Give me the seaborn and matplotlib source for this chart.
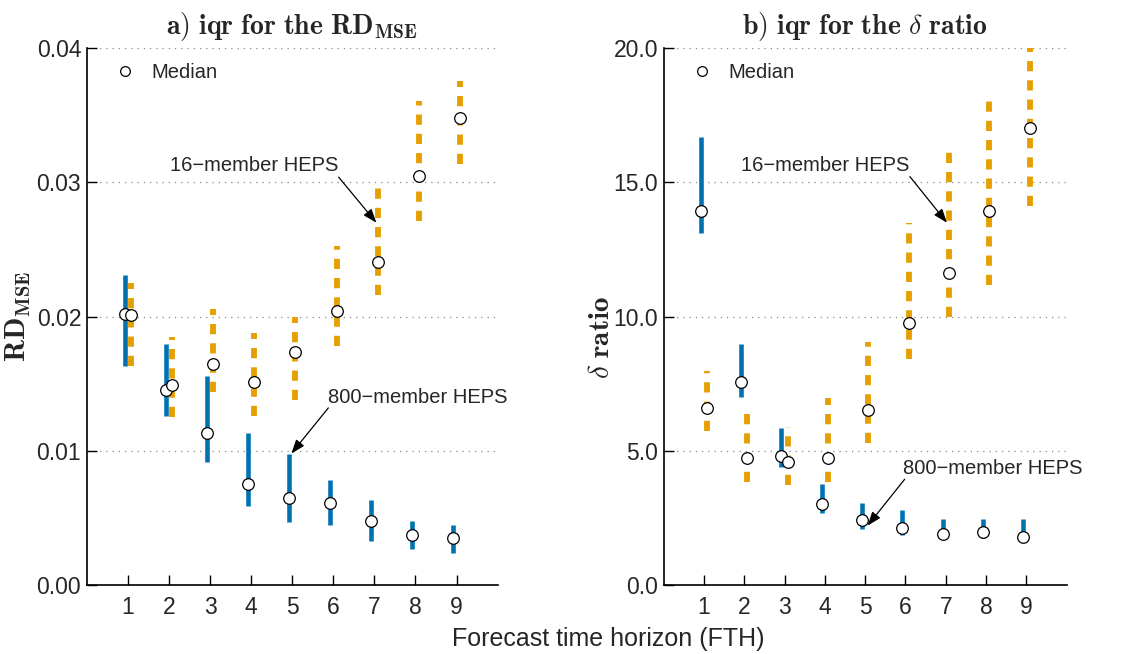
import numpy as np
import pandas as pd
import matplotlib
matplotlib.use("Agg")
import matplotlib.pyplot as plt
from matplotlib.lines import Line2D
import seaborn as sns

# Forecast time horizons
fth = [1, 2, 3, 4, 5, 6, 7, 8, 9]

# a) RD_MSE: interquartile range (q25, q75) and median per horizon
rd_800_q25 = [0.0163, 0.0126, 0.0092, 0.0059, 0.0047, 0.0045, 0.0033, 0.0027, 0.0024]
rd_800_q75 = [0.0231, 0.0180, 0.0156, 0.0113, 0.0098, 0.0078, 0.0063, 0.0048, 0.0045]
rd_800_med = [0.0202, 0.0145, 0.0113, 0.0075, 0.0065, 0.0061, 0.0048, 0.0037, 0.0035]
rd_16_q25 = [0.0163, 0.0125, 0.0144, 0.0126, 0.0138, 0.0178, 0.0216, 0.0271, 0.0314]
rd_16_q75 = [0.0225, 0.0185, 0.0206, 0.0188, 0.0200, 0.0253, 0.0300, 0.0361, 0.0376]
rd_16_med = [0.0201, 0.0149, 0.0165, 0.0151, 0.0174, 0.0204, 0.0241, 0.0305, 0.0348]

# b) delta ratio: interquartile range (q25, q75) and median per horizon
dr_800_q25 = [13.1, 7.0, 4.4, 2.7, 2.1, 1.85, 1.75, 1.75, 1.7]
dr_800_q75 = [16.7, 9.0, 5.85, 3.75, 3.07, 2.78, 2.47, 2.45, 2.45]
dr_800_med = [13.95, 7.57, 4.82, 3.02, 2.42, 2.14, 1.89, 1.96, 1.79]
dr_16_q25 = [5.74, 3.83, 3.74, 3.85, 5.28, 8.44, 10.0, 11.18, 14.14]
dr_16_q75 = [7.98, 6.62, 5.88, 6.96, 9.07, 13.48, 16.37, 18.24, 20.0]
dr_16_med = [6.61, 4.75, 4.58, 4.72, 6.53, 9.75, 11.64, 13.95, 17.04]

C_800 = "#0072B2"
C_16 = "#E69F00"
OFFSET = 0.08

sns.set_theme(style="ticks")
plt.rcParams["font.family"] = ["Liberation Sans", "DejaVu Sans"]
plt.rcParams["mathtext.fontset"] = "cm"


def make_frame(q25_a, q75_a, med_a, q25_b, q75_b, med_b):
    rows = []
    for i, h in enumerate(fth):
        rows.append(dict(fth=h, x=h - OFFSET, q25=q25_a[i], q75=q75_a[i],
                         med=med_a[i], heps="800-member HEPS"))
        rows.append(dict(fth=h, x=h + OFFSET, q25=q25_b[i], q75=q75_b[i],
                         med=med_b[i], heps="16-member HEPS"))
    return pd.DataFrame(rows)


df_rd = make_frame(rd_800_q25, rd_800_q75, rd_800_med, rd_16_q25, rd_16_q75, rd_16_med)
df_dr = make_frame(dr_800_q25, dr_800_q75, dr_800_med, dr_16_q25, dr_16_q75, dr_16_med)

fig = plt.figure(figsize=(11.31, 6.54), dpi=100)
ax1 = fig.add_axes([0.0767, 0.1055, 0.3633, 0.8206])
ax2 = fig.add_axes([0.5868, 0.1055, 0.3563, 0.8206])


def draw_panel(ax, df, ylim, yticks, yfmt, title, ylabel, label_xy):
    d800 = df[df.heps == "800-member HEPS"]
    d16 = df[df.heps == "16-member HEPS"]
    ax.vlines(d800.x, d800.q25, d800.q75, color=C_800, lw=3.3, zorder=2)
    ax.vlines(d16.x, d16.q25, d16.q75, color=C_16, lw=4.2,
              linestyles=[(0, (1.75, 1.55))], zorder=2)
    sns.scatterplot(data=df, x="x", y="med", ax=ax, marker="o", s=70,
                    color="white", edgecolor="black", linewidth=0.9,
                    zorder=4, legend=False)
    ax.set_xlim(0, 10)
    ax.set_ylim(*ylim)
    ax.set_xticks(fth)
    ax.set_xticklabels([str(h) for h in fth])
    ax.set_yticks(yticks)
    ax.set_yticklabels([yfmt.format(v) for v in yticks])
    ax.yaxis.grid(True, linestyle=(0, (1, 4)), color="#888888", lw=0.9)
    ax.set_axisbelow(True)
    sns.despine(ax=ax)
    for s in ("left", "bottom"):
        ax.spines[s].set_color("black")
        ax.spines[s].set_linewidth(1.2)
    ax.tick_params(axis="both", direction="in", length=7.5, width=1.0,
                   labelsize=16.5, color="black", pad=4)
    ax.tick_params(axis="x", pad=8)
    ax.set_xlabel("")
    ax.set_ylabel(ylabel, fontsize=21)
    ax.yaxis.set_label_coords(*label_xy)
    ax.set_title(title, fontsize=20, pad=10)
    handle = Line2D([], [], linestyle="none", marker="o", markersize=7,
                    markerfacecolor="white", markeredgecolor="black",
                    markeredgewidth=0.9)
    ax.legend([handle], ["Median"], loc="center left",
              bbox_to_anchor=(0.03, 0.955), frameon=False, fontsize=14.5,
              handlelength=1.0, handletextpad=0.8, borderpad=0.3)


draw_panel(ax1, df_rd, (0, 0.04), [0.00, 0.01, 0.02, 0.03, 0.04], "{:.2f}",
           r"$\mathbf{a)\ iqr\ for\ the\ RD_{MSE}}$", r"$\mathbf{RD_{MSE}}$",
           (-0.131, 0.5))
draw_panel(ax2, df_dr, (0, 20), [0.0, 5.0, 10.0, 15.0, 20.0], "{:.1f}",
           r"$\mathbf{b)\ iqr\ for\ the}\ \delta\ \mathbf{ratio}$",
           r"$\delta\ \mathbf{ratio}$", (-0.121, 0.462))

arrow = dict(arrowstyle="-|>,head_length=0.6,head_width=0.22", color="black",
             lw=0.9, shrinkA=0, shrinkB=0, mutation_scale=14)


def label_with_arrow(ax, text, text_xy, start, tip):
    ax.text(*text_xy, text, ha="center", va="center", fontsize=14.5)
    ax.annotate("", xy=tip, xytext=start, arrowprops=arrow)


label_with_arrow(ax1, "16\u2212member HEPS", (4.08, 0.0313), (6.13, 0.0304), (7.05, 0.0270))
label_with_arrow(ax1, "800\u2212member HEPS", (8.05, 0.0140), (5.88, 0.0132), (4.98, 0.0098))
label_with_arrow(ax2, "16\u2212member HEPS", (4.02, 15.65), (6.11, 15.22), (7.03, 13.5))
label_with_arrow(ax2, "800\u2212member HEPS", (8.16, 4.35), (5.98, 3.94), (5.06, 2.21))

fig.text(0.5375, 0.023, "Forecast time horizon (FTH)", ha="center",
         va="center", fontsize=18)

fig.savefig("out.png", dpi=100)
